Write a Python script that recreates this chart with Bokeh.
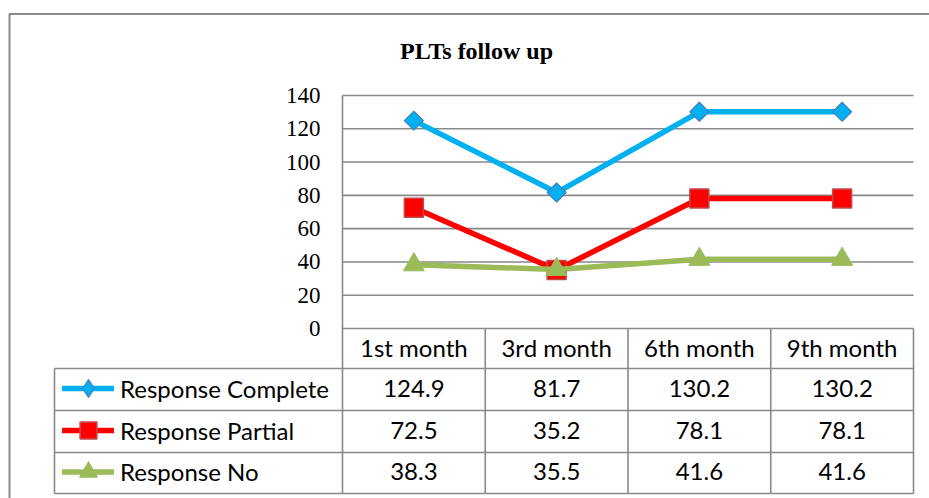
import math
from bokeh.plotting import figure
from bokeh.models import Range1d, Label, Legend, LegendItem
from bokeh.core.properties import value
from bokeh.embed import file_html
from bokeh.resources import INLINE

# ---------------- data ----------------
months = ["1st month", "3rd month", "6th month", "9th month"]
complete = [124.9, 81.7, 130.2, 130.2]
partial = [72.5, 35.2, 78.1, 78.1]
no_resp = [38.3, 35.5, 41.6, 41.6]
series_names = ["Response Complete", "Response Partial", "Response No"]
y_ticks = [0, 20, 40, 60, 80, 100, 120, 140]
y_tick_labels = [str(t) for t in y_ticks]
title_text = "PLTs follow up"

# ---------------- layout helpers (image px -> data) ----------------
OFF = 0
W, H = 929, 498
X0, CW = 342.0, 142.75
Y0, PPU = 328.0, 233.0 / 140.0


def px2x(px):
    return (px - X0) / CW


def py2y(py):
    return (Y0 - py) / PPU


GRAY = "#898989"
SERIF = value("Liberation Serif")
SANS = value("Lato")
TFS = "24px"

p = figure(width=W, height=H, output_backend="svg", toolbar_location=None, title=None,
           x_range=Range1d(px2x(OFF), px2x(OFF + W)), y_range=Range1d(py2y(OFF + H), py2y(OFF)),
           x_axis_location=None, y_axis_location=None, min_border=0,
           outline_line_color=None, background_fill_color="white", border_fill_color="white")
p.grid.visible = False

n = len(months)
xs = [i + 0.5 for i in range(n)]

# outer chart border (clipped at right/bottom like the reference)
p.line(x=[px2x(9), px2x(9), px2x(960)], y=[py2y(600), py2y(13.5), py2y(13.5)],
       line_color=GRAY, line_width=2)

# horizontal gridlines from ticks
p.segment(x0=[0] * len(y_ticks), x1=[n] * len(y_ticks), y0=y_ticks, y1=y_ticks,
          line_color=GRAY, line_width=1.6)

# y tick labels
p.text(x=[px2x(320)] * len(y_ticks), y=y_ticks, text=y_tick_labels,
       text_align="right", text_baseline="middle", text_font=SERIF,
       text_font_size="23px", text_color="black")

# data table grid
row_px = [328, 368, 410, 452, 493]
tbl_left = px2x(54)
hy = [py2y(r) for r in row_px[1:]]
p.segment(x0=[tbl_left] * len(hy), x1=[n] * len(hy), y0=hy, y1=hy,
          line_color=GRAY, line_width=1.6)
vx = [tbl_left] + list(range(0, n + 1))
vy0 = [py2y(row_px[1])] + [y_ticks[-1]] + [0] * n
vy1 = [py2y(row_px[-1])] * len(vx)
p.segment(x0=vx, x1=vx, y0=vy0, y1=vy1, line_color=GRAY, line_width=1.6)

# header and values
p.text(x=xs, y=[py2y(347)] * n, text=months, text_align="center", text_baseline="middle",
       text_font=SANS, text_font_size=TFS, text_color="black")
row_centers = [388, 430, 471]
for vals, rc in zip([complete, partial, no_resp], row_centers):
    p.text(x=xs, y=[py2y(rc)] * n, text=[f"{v:.1f}" for v in vals],
           text_align="center", text_baseline="middle",
           text_font=SANS, text_font_size=TFS, text_color="black")

# series
styles = [
    dict(color="#00B0F0", marker="square", angle=math.pi / 4, size=13.5, edge="#4A7EBB", ew=1.2,
         leg_marker="diamond", gh=44),
    dict(color="#FF0000", marker="square", angle=0.0, size=19, edge="#BE4B48", ew=1.5,
         leg_marker=None, gh=42),
    dict(color="#9BBB59", marker="triangle", angle=0.0, size=21, edge="#9BBB59", ew=1.0,
         leg_marker=None, gh=45),
]
for vals, name, st, rc in zip([complete, partial, no_resp], series_names, styles, row_centers):
    lr = p.line(x=xs, y=vals, line_color=st["color"], line_width=5.5,
                line_join="round", line_cap="round")
    sr = p.scatter(x=xs, y=vals, marker=st["marker"], angle=st["angle"], size=st["size"],
                   fill_color=st["color"], line_color=st["edge"], line_width=st["ew"])
    leg_rs = [lr, sr]
    if st["leg_marker"]:
        # legend glyphs are never rotated: use a diamond glyph hidden under the markers
        hr = p.scatter(x=xs, y=vals, marker=st["leg_marker"], size=1, fill_color=st["color"],
                       line_color=st["edge"], line_width=st["ew"], level="underlay")
        leg_rs = [lr, hr]
    gh = st["gh"]
    leg = Legend(items=[LegendItem(label=name, renderers=leg_rs)],
                 location=(62 - OFF, int(round((OFF + H) - (rc + gh / 2)))),
                 glyph_width=52, glyph_height=gh, label_height=gh, label_standoff=6,
                 padding=0, margin=0, spacing=0, border_line_color=None,
                 background_fill_alpha=0, label_text_font="Lato",
                 label_text_font_size=TFS, label_text_color="black")
    p.add_layout(leg)

# title
p.add_layout(Label(x=px2x(476), y=py2y(50), text=title_text, text_align="center",
                   text_baseline="middle", text_font="Liberation Serif", text_font_style="bold",
                   text_font_size="24px", text_color="black"))

open("out.html", "w").write(file_html(p, INLINE))
